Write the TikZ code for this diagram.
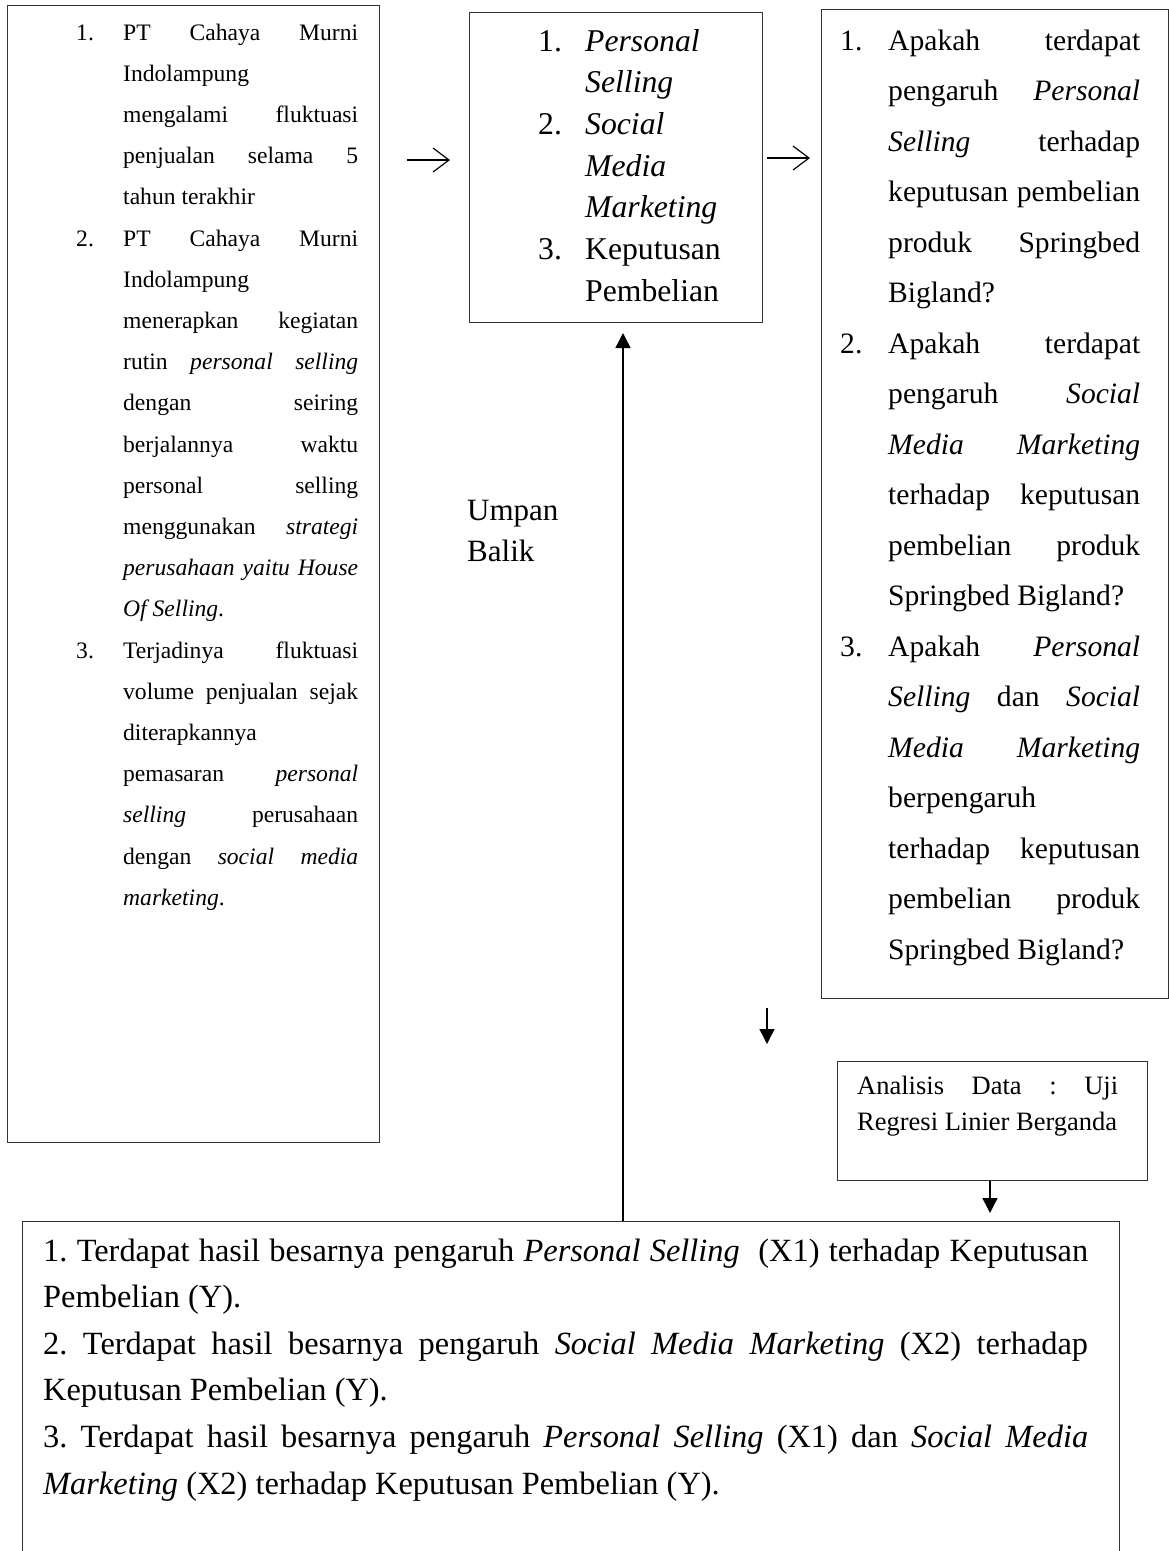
\documentclass[tikz,border=0pt]{standalone}
\usepackage{fontspec}
\setmainfont{Liberation Serif}
\usetikzlibrary{arrows.meta}
\newcommand{\parsetup}{\parindent=0pt\tolerance=10000\hbadness=10000\hyphenpenalty=10000\exhyphenpenalty=10000\frenchspacing\emergencystretch=0pt\relax}
\newcommand{\hitem}[2]{\hangindent=#1\hangafter=1\makebox[#1][l]{#2}}
\tikzset{
  frame/.style={draw=black!80, line width=1pt, inner sep=0pt, anchor=north west},
  txt/.style={inner sep=0pt, anchor=base west},
  conn/.style={line width=1.4pt, -{Triangle[length=15pt,width=15pt]}},
  sym/.style={line width=1.2pt, -{Straight Barb[length=16pt,width=24pt]}}
}
\begin{document}
\begin{tikzpicture}[x=1pt,y=-1pt]
\useasboundingbox (0,0) rectangle (1169,1551);
\clip (0,0) rectangle (1169,1551);
\fill[white] (0,0) rectangle (1169,1551);

% boxes
\node[frame, minimum width=372pt, minimum height=1137pt] (lbox) at (7,5) {};
\node[frame, minimum width=293pt, minimum height=310pt] (cbox) at (469,12) {};
\node[frame, minimum width=347pt, minimum height=989pt] (rbox) at (821,9) {};
\node[frame, minimum width=310pt, minimum height=119pt] (ana) at (837,1061) {};
\node[frame, minimum width=1097pt, minimum height=360pt] (bbox) at (22,1221) {};

% left text
\node[txt] (ltext) at (76,40) {\parbox[t]{282pt}{\parsetup\fontsize{23.6pt}{41.2pt}\selectfont
\hitem{47pt}{1.}PT Cahaya Murni\linebreak Indolampung\newline mengalami fluktuasi\linebreak penjualan selama 5\linebreak tahun terakhir\par
\hitem{47pt}{2.}PT Cahaya Murni\linebreak Indolampung\newline menerapkan kegiatan\linebreak rutin \textit{personal selling}\linebreak dengan seiring\linebreak berjalannya waktu\linebreak personal selling\linebreak menggunakan \textit{strategi}\linebreak \textit{perusahaan yaitu House}\linebreak \textit{Of Selling}.\par
\hitem{47pt}{3.}Terjadinya fluktuasi\linebreak volume penjualan sejak\linebreak diterapkannya\newline pemasaran \textit{personal}\linebreak \textit{selling} perusahaan\linebreak dengan \textit{social media}\linebreak \textit{marketing}.\par}};

% center text
\node[txt] (ctext) at (538,51) {\parbox[t]{224pt}{\parsetup\raggedright\fontsize{31.7pt}{41.7pt}\selectfont
\hitem{47pt}{1.}\textit{Personal}\newline\textit{Selling}\par
\hitem{47pt}{2.}\textit{Social}\newline\textit{Media}\newline\textit{Marketing}\par
\hitem{47pt}{3.}Keputusan\newline Pembelian\par}};

% right text
\node[txt] (rtext) at (840,50) {\parbox[t]{300pt}{\parsetup\fontsize{29.6pt}{50.5pt}\selectfont
\hitem{48pt}{1.}Apakah terdapat\linebreak pengaruh \textit{Personal}\linebreak \textit{Selling} terhadap\linebreak keputusan pembelian\linebreak produk Springbed\linebreak Bigland?\par
\hitem{48pt}{2.}Apakah terdapat\linebreak pengaruh \textit{Social}\linebreak \textit{Media Marketing}\linebreak terhadap keputusan\linebreak pembelian produk\linebreak Springbed Bigland?\par
\hitem{48pt}{3.}Apakah \textit{Personal}\linebreak \textit{Selling} dan \textit{Social}\linebreak \textit{Media Marketing}\linebreak berpengaruh\newline terhadap keputusan\linebreak pembelian produk\linebreak Springbed Bigland?\par}};

% feedback label
\node[txt] (umpan) at (467,520) {\parbox[t]{120pt}{\parsetup\raggedright\fontsize{31pt}{41pt}\selectfont Umpan\newline Balik}};

% analysis text
\node[txt] (atext) at (857,1094) {\parbox[t]{261pt}{\parsetup\fontsize{26.5pt}{36.5pt}\selectfont Analisis Data : Uji\linebreak Regresi Linier Berganda\par}};

% bottom text
\node[txt] (btext) at (43,1261) {\parbox[t]{1045pt}{\parsetup\fontsize{32.4pt}{46.6pt}\selectfont
1. Terdapat hasil besarnya pengaruh \textit{Personal Selling}\ \ (X1) terhadap Keputusan\linebreak Pembelian (Y).\par
2. Terdapat hasil besarnya pengaruh \textit{Social Media Marketing} (X2) terhadap\linebreak Keputusan Pembelian (Y).\par
3. Terdapat hasil besarnya pengaruh \textit{Personal Selling} (X1) dan \textit{Social Media}\linebreak \textit{Marketing} (X2) terhadap Keputusan Pembelian (Y).\par}};

% connectors
\coordinate (a1s) at (407,160);
\coordinate (a1e) at (450,160);
\coordinate (a2s) at (767,158);
\coordinate (a2e) at (810,158);
\coordinate (d1s) at (767,1008);
\coordinate (d1e) at (767,1044);
\coordinate (fbx) at (623,0);
\coordinate (anx) at (990,0);

\draw[sym] (a1s) -- (a1e);
\draw[sym] (a2s) -- (a2e);
\draw[conn] (d1s) -- (d1e);
\draw[conn, shorten >=8pt] (ana.south -| anx) -- (bbox.north -| anx);
\draw[conn, shorten >=10pt] (bbox.north -| fbx) -- (cbox.south -| fbx);
\end{tikzpicture}
\end{document}
